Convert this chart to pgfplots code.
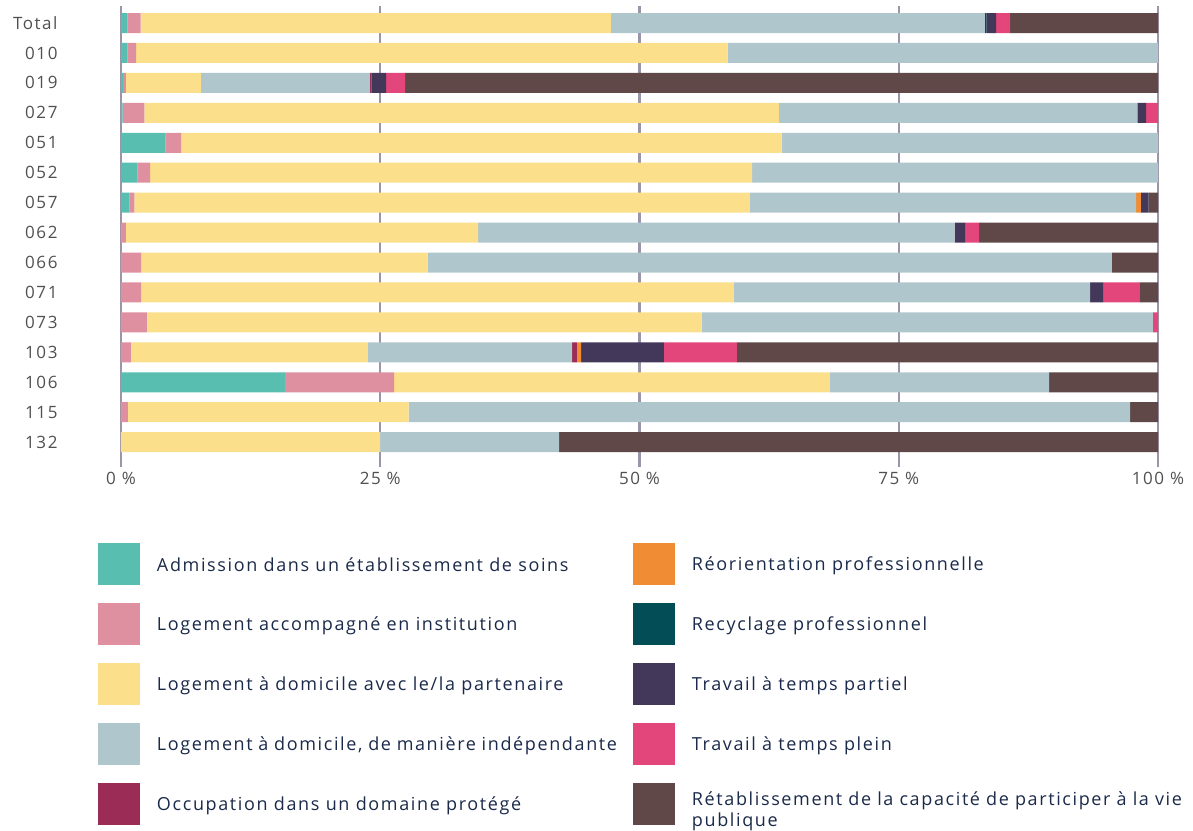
\documentclass[border=0pt]{standalone}
\usepackage{fontspec}
\setmainfont{Open Sans}[LetterSpace=9]
\usepackage{pgfplots}
\usepackage{pgfplotstable}
\pgfplotsset{compat=1.18}
\definecolor{admc}{HTML}{58BFB0}
\definecolor{instc}{HTML}{DE8FA0}
\definecolor{partc}{HTML}{FBDF8B}
\definecolor{indepc}{HTML}{AFC7CC}
\definecolor{occc}{HTML}{9A2C55}
\definecolor{reorc}{HTML}{F08C33}
\definecolor{recyc}{HTML}{034E56}
\definecolor{tpartc}{HTML}{43385A}
\definecolor{tpleinc}{HTML}{E3467B}
\definecolor{retabc}{HTML}{604848}
\definecolor{gridc}{HTML}{9C94A8}
\definecolor{tickc}{HTML}{505050}
\definecolor{legc}{HTML}{1B2A4A}
\pgfplotstableread{
y adm inst part indep occ reor recy tpart tplein retab
0 0.65 1.25 45.35 36.05 0 0 0.15 0.95 1.35 14.25
1 0.65 0.8 57.05 41.5 0 0 0 0 0 0
2 0.2 0.28 7.22 16.3 0.15 0 0.07 1.35 1.83 72.6
3 0.15 2.1 61.2 34.55 0 0 0 0.85 1.15 0
4 4.3 1.5 57.9 36.3 0 0 0 0 0 0
5 1.6 1.2 58.05 39.15 0 0 0 0 0 0
6 0.83 0.47 59.35 37.25 0 0.45 0 0.75 0 0.9
7 0 0.48 33.97 45.95 0 0 0 1.0 1.35 17.25
8 0 1.93 27.64 65.99 0 0 0 0 0 4.44
9 0 1.93 57.17 34.35 0 0 0 1.25 3.55 1.75
10 0 2.5 53.5 43.5 0 0 0 0 0.5 0
11 0 0.96 22.84 19.7 0.47 0.39 0 8.0 7.04 40.6
12 15.8 10.55 42.02 21.13 0 0 0 0 0 10.5
13 0 0.67 27.07 69.56 0 0 0 0 0 2.7
14 0 0 25.0 17.24 0 0 0 0 0 57.76
}\data
\begin{document}
\begin{tikzpicture}
\begin{axis}[
  scale only axis, width=1037pt, height=461pt,
  xbar stacked, bar width=20pt,
  xmin=0, xmax=100, ymin=-0.568, ymax=14.83, y dir=reverse,
  axis line style={draw=none},
  major tick length=0pt,
  xtick={0,25,50,75,100},
  xticklabels={0 \%,25 \%,50 \%,75 \%,100 \%},
  ytick={0,...,14},
  yticklabels={Total,010,019,027,051,052,057,062,066,071,073,103,106,115,132},
  xmajorgrids, grid style={color=gridc, line width=2.5pt},
  tick label style={font=\fontsize{17}{20}\selectfont, text=tickc},
  yticklabel style={anchor=east, xshift=-60pt},
  xticklabel style={yshift=-2pt},
  legend columns=2, legend cell align=left,
  legend style={at={(-0.02218,-0.1649)}, anchor=north west, draw=none,
    inner sep=0pt, outer sep=0pt, row sep=18pt,
    font=\fontsize{18}{21}\selectfont, text=legc,
    /tikz/every odd column/.append style={column sep=15pt},
    /tikz/every even column/.append style={column sep=14pt}},
  legend image code/.code={\fill[#1] (0pt,-21pt) rectangle (42pt,21pt);},
]
\addplot[fill=admc, draw=none, forget plot] table[x=adm, y=y] {\data};
\addplot[fill=instc, draw=none, forget plot] table[x=inst, y=y] {\data};
\addplot[fill=partc, draw=none, forget plot] table[x=part, y=y] {\data};
\addplot[fill=indepc, draw=none, forget plot] table[x=indep, y=y] {\data};
\addplot[fill=occc, draw=none, forget plot] table[x=occ, y=y] {\data};
\addplot[fill=reorc, draw=none, forget plot] table[x=reor, y=y] {\data};
\addplot[fill=recyc, draw=none, forget plot] table[x=recy, y=y] {\data};
\addplot[fill=tpartc, draw=none, forget plot] table[x=tpart, y=y] {\data};
\addplot[fill=tpleinc, draw=none, forget plot] table[x=tplein, y=y] {\data};
\addplot[fill=retabc, draw=none, forget plot] table[x=retab, y=y] {\data};
\addlegendimage{fill=admc, draw=none}
\addlegendentry{\parbox{460pt}{Admission dans un établissement de soins}}
\addlegendimage{fill=reorc, draw=none}
\addlegendentry{\parbox{490pt}{Réorientation professionnelle}}
\addlegendimage{fill=instc, draw=none}
\addlegendentry{\parbox{460pt}{Logement accompagné en institution}}
\addlegendimage{fill=recyc, draw=none}
\addlegendentry{\parbox{490pt}{Recyclage professionnel}}
\addlegendimage{fill=partc, draw=none}
\addlegendentry{\parbox{460pt}{Logement à domicile avec le/la partenaire}}
\addlegendimage{fill=tpartc, draw=none}
\addlegendentry{\parbox{490pt}{Travail à temps partiel}}
\addlegendimage{fill=indepc, draw=none}
\addlegendentry{\parbox{460pt}{Logement à domicile, de manière indépendante}}
\addlegendimage{fill=tpleinc, draw=none}
\addlegendentry{\parbox{490pt}{Travail à temps plein}}
\addlegendimage{fill=occc, draw=none}
\addlegendentry{\parbox{460pt}{Occupation dans un domaine protégé}}
\addlegendimage{fill=retabc, draw=none}
\addlegendentry{\parbox{490pt}{\raggedright Rétablissement de la capacité de participer à la vie publique}}
\end{axis}
\path (-121pt,467pt) rectangle (1072pt,-363pt);
\end{tikzpicture}
\end{document}
